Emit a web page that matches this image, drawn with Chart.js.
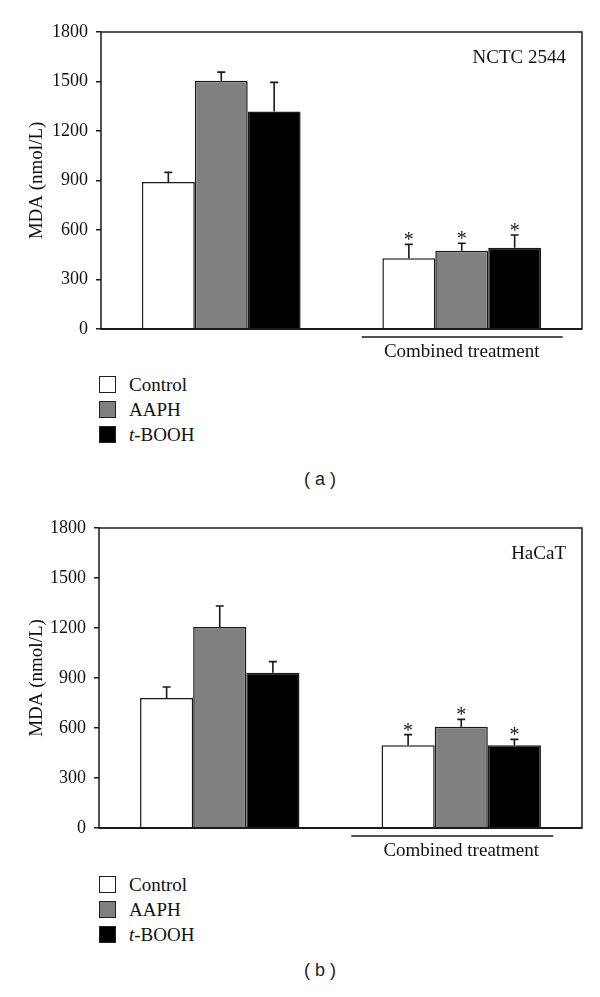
<!DOCTYPE html>
<html>
<head>
<meta charset="utf-8">
<script src="https://cdn.jsdelivr.net/npm/chart.js@4.4.1/dist/chart.umd.min.js"></script>
<style>
  html, body { margin: 0; padding: 0; background: #fff; }
  .page { position: relative; width: 600px; height: 997px; overflow: hidden; }
  .page canvas { position: absolute; left: 0; }
  .legend { position: absolute; left: 99px; font: 19px 'Liberation Serif', serif; color: #111; }
  .legend div { position: relative; height: 25px; line-height: 17px; padding-left: 30px; }
  .legend span { position: absolute; left: 0; top: 0; width: 15px; height: 15px; border: 1.5px solid #222; }
  .caption { position: absolute; width: 600px; left: 20px; text-align: center; font: 18px 'Liberation Sans', sans-serif; color: #222; }
</style>
</head>
<body>
<div class="page">
  <canvas id="chartA" width="600" height="368" style="top:0"></canvas>
  <div class="legend" style="top:376px">
    <div><span style="background:#fff"></span>Control</div>
    <div><span style="background:#808080"></span>AAPH</div>
    <div><span style="background:#000"></span><i>t</i>-BOOH</div>
  </div>
  <div class="caption" style="top:469px">( a )</div>

  <canvas id="chartB" width="600" height="368" style="top:496px"></canvas>
  <div class="legend" style="top:876px">
    <div><span style="background:#fff"></span>Control</div>
    <div><span style="background:#808080"></span>AAPH</div>
    <div><span style="background:#000"></span><i>t</i>-BOOH</div>
  </div>
  <div class="caption" style="top:960px">( b )</div>
</div>

<script>
// categories and series
const groups = ["", "Combined treatment"];
const seriesNames = ["Control", "AAPH", "t-BOOH"];
const seriesColors = ["#ffffff", "#808080", "#000000"];

// (a) NCTC 2544, MDA nmol/L
const aControl = [891, 429];
const aAAPH = [1505, 474];
const aTBOOH = [1318, 492];
const aControlErr = [58, 84];
const aAAPHErr = [52, 46];
const aTBOOHErr = [177, 78];

// (b) HaCaT
const bControl = [780, 496];
const bAAPH = [1206, 608];
const bTBOOH = [932, 496];
const bControlErr = [66, 64];
const bAAPHErr = [126, 44];
const bTBOOHErr = [66, 36];

// significance marks (*) per group
const significant = [false, true];

const yTicks = [0, 300, 600, 900, 1200, 1500, 1800];

const serif = "'Liberation Serif', 'Times New Roman', serif";
const ink = "#1a1a1a";

// error bars, asterisks, frame, panel name and group line
const decorPlugin = {
  id: "decor",
  afterDatasetsDraw(chart, args, opts) {
    const ctx = chart.ctx;
    const area = chart.chartArea;
    const y = chart.scales.y;
    const x = chart.scales.x;
    ctx.save();

    chart.data.datasets.forEach((ds, i) => {
      const meta = chart.getDatasetMeta(i);
      meta.data.forEach((bar, j) => {
        const top = y.getPixelForValue(ds.data[j] + ds.errors[j]);
        ctx.strokeStyle = ink;
        ctx.lineWidth = 1.6;
        ctx.beginPath();
        ctx.moveTo(bar.x, bar.y);
        ctx.lineTo(bar.x, top);
        ctx.moveTo(bar.x - 4, top);
        ctx.lineTo(bar.x + 4, top);
        ctx.stroke();
        if (significant[j]) {
          ctx.fillStyle = ink;
          ctx.font = "20px " + serif;
          ctx.textAlign = "center";
          ctx.textBaseline = "alphabetic";
          ctx.fillText("*", bar.x, top + 2);
        }
      });
    });

    // frame
    ctx.strokeStyle = ink;
    ctx.lineWidth = 1.5;
    ctx.strokeRect(area.left, area.top, area.right - area.left, area.bottom - area.top);
    ctx.lineWidth = 2;
    ctx.beginPath();
    ctx.moveTo(area.left, area.bottom);
    ctx.lineTo(area.right, area.bottom);
    ctx.stroke();

    // panel name
    ctx.fillStyle = "#111";
    ctx.font = "19px " + serif;
    ctx.textAlign = "right";
    ctx.textBaseline = "middle";
    ctx.fillText(opts.name, area.right - 16, area.top + 26);

    // line over "Combined treatment"
    const cx = x.getPixelForValue(1);
    ctx.lineWidth = 1.5;
    ctx.beginPath();
    ctx.moveTo(cx + opts.lineFrom, area.bottom + 8);
    ctx.lineTo(cx + opts.lineTo, area.bottom + 8);
    ctx.stroke();
    ctx.restore();
  }
};

function makeChart(id, values, errors, name, frameLeft, xHeight, lineFrom, lineTo) {
  return new Chart(document.getElementById(id), {
    type: "bar",
    data: {
      labels: groups,
      datasets: seriesNames.map((n, i) => ({
        label: n,
        data: values[i],
        errors: errors[i],
        backgroundColor: seriesColors[i],
        borderColor: ink,
        borderWidth: 1.5,
        borderSkipped: "bottom",
        categoryPercentage: 0.66,
        barPercentage: 1.0
      }))
    },
    options: {
      responsive: false,
      animation: false,
      layout: { padding: { top: 32, right: 18, left: 0, bottom: 0 } },
      plugins: {
        legend: { display: false },
        tooltip: { enabled: false },
        decor: { name: name, lineFrom: lineFrom, lineTo: lineTo }
      },
      scales: {
        x: {
          type: "category",
          offset: true,
          grid: { display: false, drawTicks: false },
          border: { display: false },
          ticks: { color: "#111", font: { family: serif, size: 19 }, padding: 12, maxRotation: 0, autoSkip: false },
          afterFit: (s) => { s.height = xHeight; }
        },
        y: {
          min: 0,
          max: 1800,
          afterBuildTicks: (s) => { s.ticks = yTicks.map(v => ({ value: v })); },
          grid: { display: true, drawOnChartArea: false, tickLength: 5, color: ink, lineWidth: 1.5 },
          border: { display: false },
          ticks: { color: "#111", font: { family: serif, size: 18 }, padding: 8, callback: (v) => String(v) },
          title: { display: true, text: "MDA (nmol/L)", color: "#111", font: { family: serif, size: 19 }, padding: { top: 26, bottom: 0 } },
          afterFit: (s) => { s.width = frameLeft; }
        }
      }
    },
    plugins: [decorPlugin]
  });
}

makeChart("chartA", [aControl, aAAPH, aTBOOH], [aControlErr, aAAPHErr, aTBOOHErr], "NCTC 2544", 101, 39, -100, 101);
makeChart("chartB", [bControl, bAAPH, bTBOOH], [bControlErr, bAAPHErr, bTBOOHErr], "HaCaT", 99, 36, -110, 92);
</script>
</body>
</html>
